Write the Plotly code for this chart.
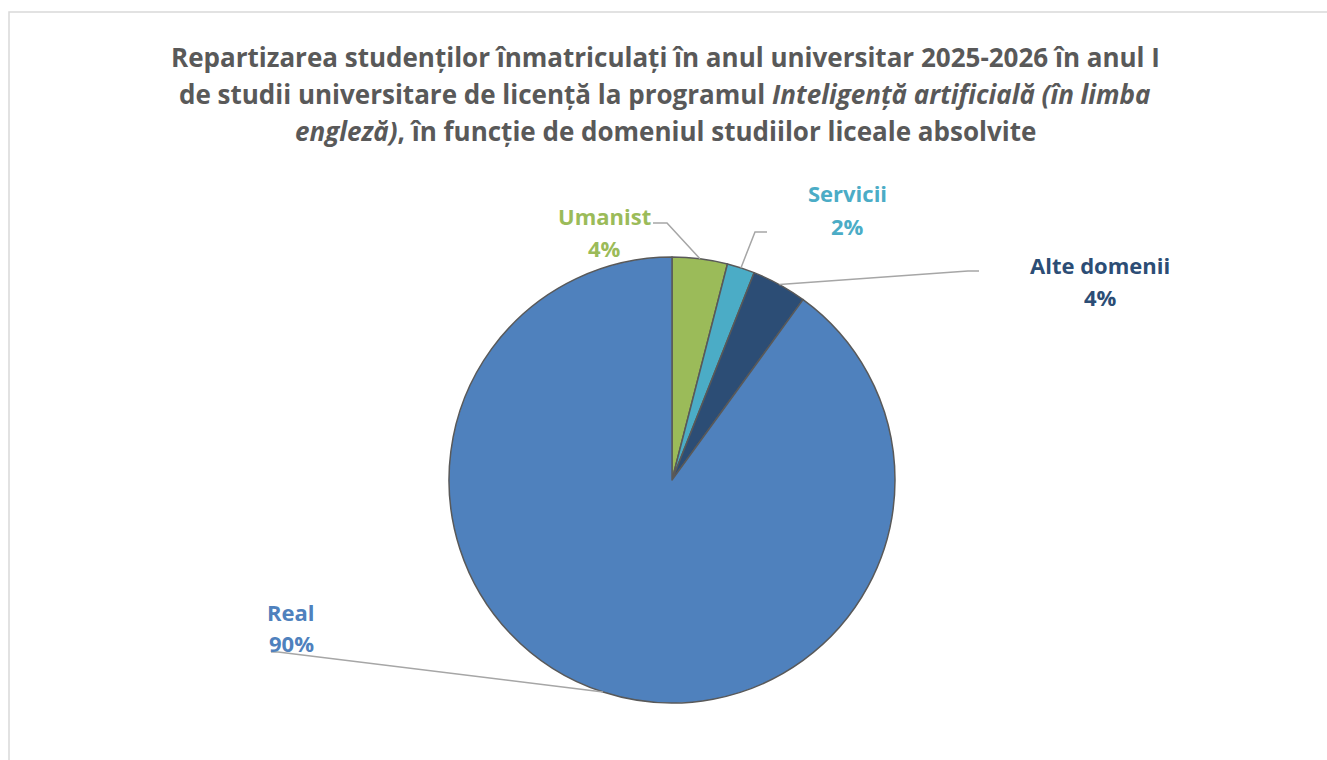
import math
import plotly.graph_objects as go

# ---- data ----
categories = ["Umanist", "Servicii", "Alte domenii", "Real"]
values = [2, 1, 2, 45]
slice_colors = ["#9BBB59", "#4BACC6", "#2C4D75", "#4F81BD"]
label_colors = ["#9BBB59", "#4BACC6", "#2C4D75", "#4F81BD"]

title_lines = [
    "Repartizarea studenților înmatriculați în anul universitar 2025-2026 în anul I",
    "de studii universitare de licență la programul <i>Inteligență artificială (în limba</i>",
    "<i>engleză)</i>, în funcție de domeniul studiilor liceale absolvite",
]

W, H = 1327, 760
FONT = "Open Sans"

def px(x):
    return x / W

def py(y):
    return 1 - y / H

# pie geometry (pixels)
CX, CY, R = 672, 480, 223

fig = go.Figure()
fig.add_trace(go.Pie(
    labels=categories,
    values=values,
    sort=False,
    direction="clockwise",
    rotation=0,
    marker=dict(colors=slice_colors, line=dict(color="#595959", width=1.5)),
    textinfo="none",
    hoverinfo="skip",
    showlegend=False,
    domain=dict(x=[px(CX - R), px(CX + R)], y=[py(CY + R), py(CY - R)]),
))

# label placement: (text centre x, name centre y, pct centre y, elbow x, elbow y, end x)
label_pos = {
    "Umanist": (604, 216, 248, 667, 223, 653),
    "Servicii": (848, 193, 226, 755, 232, 767),
    "Alte domenii": (1100, 265, 297, 968, 271, 979),
    "Real": (291, 612, 643, 278, 652, 271),
}

total = sum(values)
cum = 0
annotations = []
shapes = []
for cat, v, col in zip(categories, values, label_colors):
    mid = (cum + v / 2) / total * 2 * math.pi
    cum += v
    ex = CX + R * math.sin(mid)
    ey = CY - R * math.cos(mid)
    pct = round(v / total * 100)
    lx, ny, pyy, bx, by, tx = label_pos[cat]
    for txt, yy in ((cat, ny), (f"{pct}%", pyy)):
        annotations.append(dict(
            x=px(lx), y=py(yy), xref="paper", yref="paper",
            text=f"<b>{txt}</b>", showarrow=False,
            font=dict(family=FONT, size=22, color=col),
            align="center", xanchor="center", yanchor="middle",
        ))
    shapes.append(dict(
        type="path", xref="paper", yref="paper",
        path=f"M {px(ex)} {py(ey)} L {px(bx)} {py(by)} L {px(tx)} {py(by)}",
        line=dict(color="#A6A6A6", width=1.5),
    ))

title_y = [57, 94, 131]
for line, yy in zip(title_lines, title_y):
    annotations.append(dict(
        x=px(665), y=py(yy), xref="paper", yref="paper",
        text=f"<b>{line}</b>", showarrow=False,
        font=dict(family=FONT, size=26, color="#595959"),
        xanchor="center", yanchor="middle",
    ))

# chart-area border
shapes.append(dict(
    type="rect", xref="paper", yref="paper",
    x0=px(9), x1=px(1340), y0=py(780), y1=py(12),
    line=dict(color="#D9D9D9", width=1.5), fillcolor="rgba(0,0,0,0)",
))

fig.update_layout(
    width=W, height=H, autosize=False,
    margin=dict(l=0, r=0, t=0, b=0),
    paper_bgcolor="white", plot_bgcolor="white",
    annotations=annotations, shapes=shapes,
    font=dict(family=FONT),
)

fig.write_html(
    "out.html",
    config={"displayModeBar": False},
    post_script="document.body.style.margin='0';document.body.style.overflow='hidden';",
)
